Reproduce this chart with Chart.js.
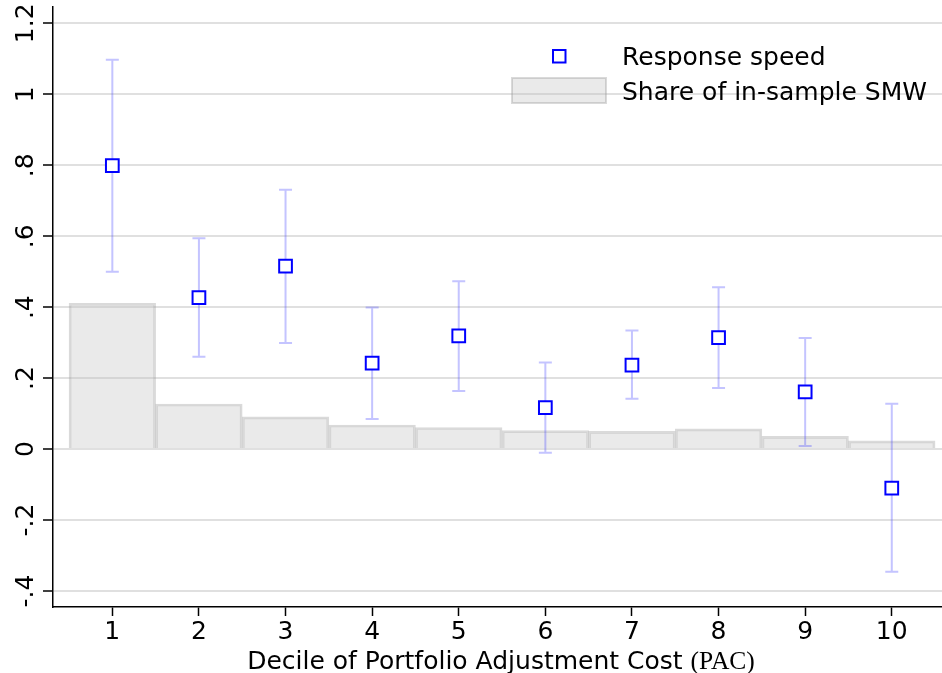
<!DOCTYPE html>
<html>
<head>
<meta charset="utf-8">
<script src="https://cdn.jsdelivr.net/npm/chart.js@4.4.0/dist/chart.umd.min.js"></script>
<style>
  html, body { margin: 0; padding: 0; background: #fff; overflow: hidden; }
  canvas { display: block; }
</style>
</head>
<body>
<canvas id="chart" width="942" height="673"></canvas>
<script>
// data
const deciles = [1, 2, 3, 4, 5, 6, 7, 8, 9, 10];
const speed = [0.799, 0.427, 0.516, 0.242, 0.319, 0.117, 0.237, 0.314, 0.161, -0.110];
const speedHi = [1.097, 0.594, 0.731, 0.399, 0.473, 0.244, 0.334, 0.456, 0.313, 0.128];
const speedLo = [0.500, 0.260, 0.299, 0.085, 0.164, -0.010, 0.142, 0.172, 0.009, -0.346];
const smwShare = [0.411, 0.127, 0.091, 0.068, 0.061, 0.052, 0.050, 0.057, 0.036, 0.023];
const yTicks = [-0.4, -0.2, 0, 0.2, 0.4, 0.6, 0.8, 1, 1.2];
const legendLabels = ["Response speed", "Share of in-sample SMW"];
const xTitle = "Decile of Portfolio Adjustment Cost ";
const xTitleSerif = "(PAC)";

const blue = "#0000ff";
const ciColor = "rgba(60,60,255,0.3)";
const barFill = "rgba(190,190,190,0.32)";
const barLine = "rgba(150,150,150,0.35)";

// stata style labels: .2, -.4, 1.2
function fmt(v) {
  if (Math.abs(v) < 1e-9) return "0";
  let s = String(Math.round(v * 10) / 10);
  return s.replace(/^0\./, ".").replace(/^-0\./, "-.");
}

// confidence intervals behind the squares
const errorBars = {
  id: "errorBars",
  beforeDatasetDraw(chart, args) {
    if (args.index !== 1) return;
    const { ctx, scales: { x, y } } = chart;
    ctx.save();
    ctx.strokeStyle = ciColor;
    ctx.lineWidth = 2;
    deciles.forEach((d, i) => {
      const px = x.getPixelForValue(d);
      const top = y.getPixelForValue(speedHi[i]);
      const bot = y.getPixelForValue(speedLo[i]);
      ctx.beginPath();
      ctx.moveTo(px, top); ctx.lineTo(px, bot);
      ctx.moveTo(px - 6.5, top); ctx.lineTo(px + 6.5, top);
      ctx.moveTo(px - 6.5, bot); ctx.lineTo(px + 6.5, bot);
      ctx.stroke();
    });
    ctx.restore();
  }
};

// legend inside the plot + x title with serif "(PAC)"
const extras = {
  id: "extras",
  afterDraw(chart) {
    const ctx = chart.ctx;
    ctx.save();
    // marker
    ctx.fillStyle = "#fff";
    ctx.strokeStyle = blue;
    ctx.lineWidth = 2;
    ctx.fillRect(553, 50, 12.5, 12.5);
    ctx.strokeRect(553, 50, 12.5, 12.5);
    // bar key
    ctx.fillStyle = barFill;
    ctx.strokeStyle = barLine;
    ctx.fillRect(512, 78, 94, 25);
    ctx.strokeRect(512, 78, 94, 25);

    ctx.fillStyle = "#000";
    ctx.textBaseline = "alphabetic";
    ctx.textAlign = "left";
    ctx.font = '25px "DejaVu Sans"';
    ctx.fillText(legendLabels[0], 622, 65);
    ctx.fillText(legendLabels[1], 622, 100);

    // axis title
    const f1 = '25px "DejaVu Sans"';
    const f2 = '25.5px "Liberation Serif"';
    ctx.font = f1;
    const w1 = ctx.measureText(xTitle).width;
    ctx.font = f2;
    const w2 = ctx.measureText(xTitleSerif).width;
    const x0 = 501 - (w1 + w2) / 2;
    ctx.font = f1;
    ctx.fillText(xTitle, x0, 669);
    ctx.font = f2;
    ctx.fillText(xTitleSerif, x0 + w1, 669);
    ctx.restore();
  }
};

new Chart(document.getElementById("chart"), {
  type: "bar",
  data: {
    datasets: [
      {
        type: "bar",
        label: legendLabels[1],
        data: deciles.map((d, i) => ({ x: d, y: smwShare[i] })),
        backgroundColor: barFill,
        borderColor: barLine,
        borderWidth: 2,
        barPercentage: 1,
        categoryPercentage: 1,
        order: 2
      },
      {
        type: "line",
        label: legendLabels[0],
        data: deciles.map((d, i) => ({ x: d, y: speed[i] })),
        showLine: false,
        pointStyle: "rect",
        pointRadius: 9,
        pointBorderWidth: 2,
        pointBackgroundColor: "#fff",
        pointBorderColor: blue,
        order: 1
      }
    ]
  },
  options: {
    responsive: false,
    animation: false,
    layout: { autoPadding: false, padding: { top: 7, right: 0, left: 0, bottom: 0 } },
    plugins: {
      legend: { display: false },
      tooltip: { enabled: false }
    },
    scales: {
      x: {
        type: "linear",
        offset: false,
        min: 0.315,
        max: 10.58,
        afterBuildTicks: s => { s.ticks = deciles.map(v => ({ value: v })); },
        afterFit: s => { s.height = 66; s.paddingLeft = 0; s.paddingRight = 0; },
        grid: { offset: false, drawOnChartArea: false, drawTicks: true, tickLength: 9, tickColor: "#000", tickWidth: 1.5 },
        border: { color: "#000", width: 1.5 },
        ticks: {
          color: "#000",
          font: { family: "DejaVu Sans", size: 25 },
          padding: 1,
          maxRotation: 0,
          autoSkip: false,
          callback: v => String(v)
        }
      },
      y: {
        type: "linear",
        min: -0.445,
        max: 1.246,
        afterBuildTicks: s => { s.ticks = yTicks.map(v => ({ value: v })); },
        afterFit: s => { s.width = 53; s.paddingTop = 0; s.paddingBottom = 0; },
        grid: { color: "rgba(0,0,0,0.12)", lineWidth: 2, drawTicks: true, tickLength: 10, tickColor: "#000", tickWidth: 1.5 },
        border: { color: "#000", width: 1.5 },
        ticks: {
          color: "#000",
          font: { family: "DejaVu Sans", size: 25 },
          padding: -3,
          minRotation: 90,
          maxRotation: 90,
          crossAlign: "center",
          autoSkip: false,
          callback: v => fmt(v)
        }
      }
    }
  },
  plugins: [errorBars, extras]
});
</script>
</body>
</html>
